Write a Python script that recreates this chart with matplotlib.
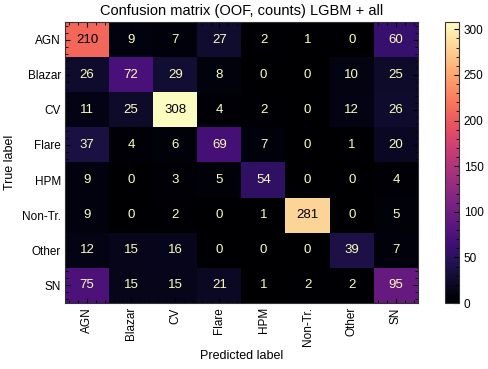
import numpy as np
import matplotlib.pyplot as plt
from matplotlib.ticker import AutoMinorLocator

plt.rcParams['font.family'] = ['Liberation Sans', 'DejaVu Sans']

labels = ['AGN', 'Blazar', 'CV', 'Flare', 'HPM', 'Non-Tr.', 'Other', 'SN']
row_agn = [210, 9, 7, 27, 2, 1, 0, 60]
row_blazar = [26, 72, 29, 8, 0, 0, 10, 25]
row_cv = [11, 25, 308, 4, 2, 0, 12, 26]
row_flare = [37, 4, 6, 69, 7, 0, 1, 20]
row_hpm = [9, 0, 3, 5, 54, 0, 0, 4]
row_nontr = [9, 0, 2, 0, 1, 281, 0, 5]
row_other = [12, 15, 16, 0, 0, 0, 39, 7]
row_sn = [75, 15, 15, 21, 1, 2, 2, 95]

cm = np.array([row_agn, row_blazar, row_cv, row_flare,
               row_hpm, row_nontr, row_other, row_sn])

cmap = plt.get_cmap('magma')
fig = plt.figure(figsize=(4.88, 3.69), dpi=100)
ax = fig.add_axes([65 / 488, 1 - 303 / 369, 353 / 488, 281 / 369])
cax = fig.add_axes([445 / 488, 1 - 303 / 369, 14 / 488, 281 / 369])

im = ax.imshow(cm, cmap=cmap, aspect='auto', vmin=0, vmax=cm.max())
thresh = (cm.max() + cm.min()) / 2
for i in range(cm.shape[0]):
    for j in range(cm.shape[1]):
        color = cmap(0) if cm[i, j] > thresh else cmap(1.0)
        ax.text(j, i, str(cm[i, j]), ha='center', va='center',
                color=color, fontsize=9.5)

ax.set_xticks(range(len(labels)))
ax.set_yticks(range(len(labels)))
ax.set_xticklabels(labels, rotation=90, fontsize=8.5)
ax.set_yticklabels(labels, fontsize=8.5)
ax.xaxis.set_minor_locator(AutoMinorLocator(5))
ax.yaxis.set_minor_locator(AutoMinorLocator(5))
ax.tick_params(which='both', direction='in', top=True, right=True)
ax.tick_params(which='major', length=3.5, pad=3)
ax.tick_params(which='minor', length=2)
ax.set_xlabel('Predicted label', fontsize=9, labelpad=3)
ax.set_ylabel('True label', fontsize=9)
ax.set_title('Confusion matrix (OOF, counts) LGBM + all', fontsize=10.5, pad=5)
for s in ax.spines.values():
    s.set_color('#333333')

cb = fig.colorbar(im, cax=cax)
cb.set_ticks([0, 50, 100, 150, 200, 250, 300])
cb.ax.yaxis.set_minor_locator(AutoMinorLocator(5))
cb.ax.tick_params(which='both', direction='in', labelsize=8.5)
cb.ax.tick_params(which='major', length=3.5)
cb.ax.tick_params(which='minor', length=2)
cb.outline.set_edgecolor('#333333')

fig.savefig('out.png', dpi=100)
